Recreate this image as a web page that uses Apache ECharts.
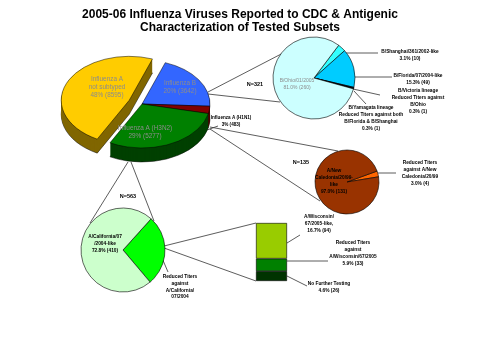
<!DOCTYPE html>
<html lang="en">
<head>
<meta charset="UTF-8">
<title>2005-06 Influenza Viruses Reported to CDC</title>
<script src="https://cdn.jsdelivr.net/npm/echarts@6/dist/echarts.min.js"></script>
<style>
  body { margin: 0; background: #fff; }
  #chart { width: 480px; height: 360px; }
</style>
</head>
<body>
<div id="chart"></div>
<script>
// all viruses reported (clockwise from the top)
const mainNames = ['Influenza B', 'Influenza A (H1N1)', 'Influenza A (H3N2)', 'Influenza A\nnot subtyped'];
const mainCounts = [3642, 483, 5277, 8595];

// influenza B tested subset
const bNames = ['B/Shanghai/361/2002-like', 'B/Florida/07/2004-like',
  'B/Victoria lineage\nReduced Titers against\nB/Ohio',
  'B/Yamagata lineage\nReduced Titers against both\nB/Florida & B/Shanghai',
  'B/Ohio/01/2005'];
const bCounts = [10, 49, 1, 1, 260];

// H1N1 tested subset
const h1Names = ['Reduced Titers\nagainst A/New\nCaledonia/20/99', 'A/New\nCaledonia/20/99-\nlike'];
const h1Counts = [4, 131];

// H3N2 tested subset
const h3Names = ['Reduced Titers\nagainst\nA/California/\n07/2004', 'A/California/07\n/2004-like'];
const h3Counts = [153, 410];

// breakdown of the reduced-titer H3N2 viruses (bottom to top)
const barNames = ['No Further Testing', 'Reduced Titers\nagainst\nA/Wisconsin/67/2005', 'A/Wisconsin/\n67/2005-like,'];
const barCounts = [26, 33, 94];

const sum = a => a.reduce((s, v) => s + v, 0);
const pct = (v, tot, d) => (v / tot * 100).toFixed(d) + '%';

// colours
const mainColors = ['#3366ff', '#800000', '#008000', '#ffcc00'];
const mainSides = ['#14298a', '#4a0000', '#004000', '#806600'];
const bColors = ['#33ffff', '#00ccff', '#003366', '#000000', '#ccffff'];
const h1Colors = ['#ff6600', '#993300'];
const h3Colors = ['#00ff00', '#ccffcc'];
const barColors = ['#003300', '#008000', '#99cc00'];

// main pie geometry (tilted)
const CX = 142, CY = 104, R = 68, SY = 0.647, DEPTH = 14, EXPLODE = 14;
const START = -70 * Math.PI / 180;
const mainTotal = sum(mainCounts);
const angles = [];
let acc = START;
mainCounts.forEach(v => {
  const a0 = acc;
  acc += v / mainTotal * Math.PI * 2;
  angles.push([a0, acc]);
});

function sliceGroup(i, top) {
  const [a0, a1] = angles[i];
  const mid = (a0 + a1) / 2;
  const off = i === 3 ? EXPLODE : 0;
  const children = [];
  if (top) {
    children.push({
      type: 'sector',
      shape: { cx: 0, cy: 0, r: R, r0: 0, startAngle: a0, endAngle: a1, clockwise: true },
      style: { fill: mainColors[i], stroke: '#000', lineWidth: 0.6, strokeNoScale: true }
    });
  } else {
    for (let d = DEPTH; d >= 1; d--) {
      children.push({
        type: 'sector',
        shape: { cx: 0, cy: d / SY, r: R, r0: 0, startAngle: a0, endAngle: a1, clockwise: true },
        style: d === DEPTH
          ? { fill: mainSides[i], stroke: '#000', lineWidth: 0.6, strokeNoScale: true }
          : { fill: mainSides[i] }
      });
    }
  }
  return {
    type: 'group',
    x: CX + Math.cos(mid) * off,
    y: CY + Math.sin(mid) * off * SY,
    scaleY: SY,
    children: children
  };
}

const bTotal = sum(bCounts), h1Total = sum(h1Counts), h3Total = sum(h3Counts);
const line = (x1, y1, x2, y2) => ({
  type: 'line', silent: true,
  shape: { x1, y1, x2, y2 },
  style: { stroke: '#333', lineWidth: 0.8 }
});
const FONT = '"Liberation Sans", Arial, sans-serif';
const txt = (x, y, text, o) => ({
  type: 'text', x, y, silent: true, z: 10,
  style: Object.assign({
    text: text, fill: '#000', fontFamily: FONT, fontSize: 4.8, fontWeight: 'bold',
    align: 'center', verticalAlign: 'middle', lineHeight: 7
  }, o || {})
});
const grey = { fill: '#8c8c8c', fontWeight: 'normal', fontSize: 6.4, lineHeight: 8 };
const lab = (names, counts, tot, i) => names[i] + '\n' + pct(counts[i], tot, 1) + ' (' + counts[i] + ')';
const mainLab = i => mainNames[i] + '\n' + pct(mainCounts[i], mainTotal, 0) + ' (' + mainCounts[i] + ')';

const pieBase = {
  type: 'pie', silent: true, animation: false,
  label: { show: false }, labelLine: { show: false },
  itemStyle: { borderColor: '#000', borderWidth: 0.6 }
};

const chart = echarts.init(document.getElementById('chart'));
chart.setOption({
  backgroundColor: '#fff',
  animation: false,
  title: {
    text: '2005-06 Influenza Viruses Reported to CDC & Antigenic\nCharacterization of Tested Subsets',
    left: 235, top: 3, textAlign: 'center',
    textStyle: { fontFamily: FONT, fontSize: 12, fontWeight: 'bold', color: '#000', lineHeight: 13 }
  },
  grid: { left: 256, top: 223, width: 31, height: 58 },
  xAxis: { type: 'category', data: ['H3N2'], show: false },
  yAxis: { type: 'value', min: 0, max: sum(barCounts), show: false },
  series: [
    {
      type: 'custom', coordinateSystem: 'none', silent: true, z: 1,
      data: mainCounts,
      renderItem: (params) => sliceGroup(params.dataIndex, false)
    },
    {
      type: 'custom', coordinateSystem: 'none', silent: true, z: 2,
      data: mainCounts,
      renderItem: (params) => sliceGroup(params.dataIndex, true)
    },
    Object.assign({}, pieBase, {
      center: [314, 78], radius: 41, startAngle: 53,
      data: bCounts.map((v, i) => ({ value: v, name: bNames[i], itemStyle: { color: bColors[i] } }))
    }),
    Object.assign({}, pieBase, {
      center: [347, 182], radius: 32, startAngle: 20,
      data: h1Counts.map((v, i) => ({ value: v, name: h1Names[i], itemStyle: { color: h1Colors[i] } }))
    }),
    Object.assign({}, pieBase, {
      center: [123, 250], radius: 42, startAngle: 48,
      data: h3Counts.map((v, i) => ({ value: v, name: h3Names[i], itemStyle: { color: h3Colors[i] } }))
    }),
    ...barCounts.map((v, i) => ({
      type: 'bar', stack: 'h3', name: barNames[i], silent: true,
      barWidth: '100%', data: [v],
      itemStyle: { color: barColors[i], borderColor: '#000', borderWidth: 0.6 }
    }))
  ],
  graphic: [
    // connectors between the pies
    line(208, 92, 285, 52),
    line(208, 94, 280, 102),
    line(210, 127, 338, 151),
    line(210, 129, 320, 201),
    line(128, 162, 90, 223),
    line(131, 162, 154, 221),
    line(164, 246, 256, 223),
    line(164, 248, 256, 281),
    // label leaders
    line(207, 130, 218, 126),
    line(344, 53, 378, 53),
    line(355, 77, 392, 77),
    line(353, 89, 380, 95),
    line(354, 91, 366, 104),
    line(378, 173, 396, 173),
    line(162, 258, 168, 272),
    line(287, 243, 300, 235),
    line(287, 261, 328, 261),
    line(287, 276, 307, 286),
    // main pie labels
    txt(107, 87, mainLab(3), grey),
    txt(180, 87.5, mainLab(0), grey),
    txt(145, 132, mainLab(2), grey),
    txt(231, 121.5, mainLab(1), { fontSize: 4.6 }),
    // B subset
    txt(255, 84, 'N=' + bTotal, { fontSize: 5.5 }),
    txt(297, 84, lab(bNames, bCounts, bTotal, 4), { fill: '#8c8c8c', fontWeight: 'normal', fontSize: 5 }),
    txt(410, 55, lab(bNames, bCounts, bTotal, 0)),
    txt(418, 79.5, lab(bNames, bCounts, bTotal, 1)),
    txt(418, 101.5, lab(bNames, bCounts, bTotal, 2)),
    txt(371, 118, lab(bNames, bCounts, bTotal, 3)),
    // H1N1 subset
    txt(301, 162, 'N=' + h1Total, { fontSize: 5.5 }),
    txt(334, 181.5, lab(h1Names, h1Counts, h1Total, 1)),
    txt(420, 173.5, lab(h1Names, h1Counts, h1Total, 0)),
    // H3N2 subset
    txt(128, 196, 'N=' + h3Total, { fontSize: 5.5 }),
    txt(105, 244, lab(h3Names, h3Counts, h3Total, 1)),
    txt(180, 287, h3Names[0], { lineHeight: 6.7 }),
    txt(319, 224, lab(barNames, barCounts, h3Total, 2)),
    txt(353, 253.5, lab(barNames, barCounts, h3Total, 1)),
    txt(329, 287.5, lab(barNames, barCounts, h3Total, 0))
  ]
});
</script>
</body>
</html>
